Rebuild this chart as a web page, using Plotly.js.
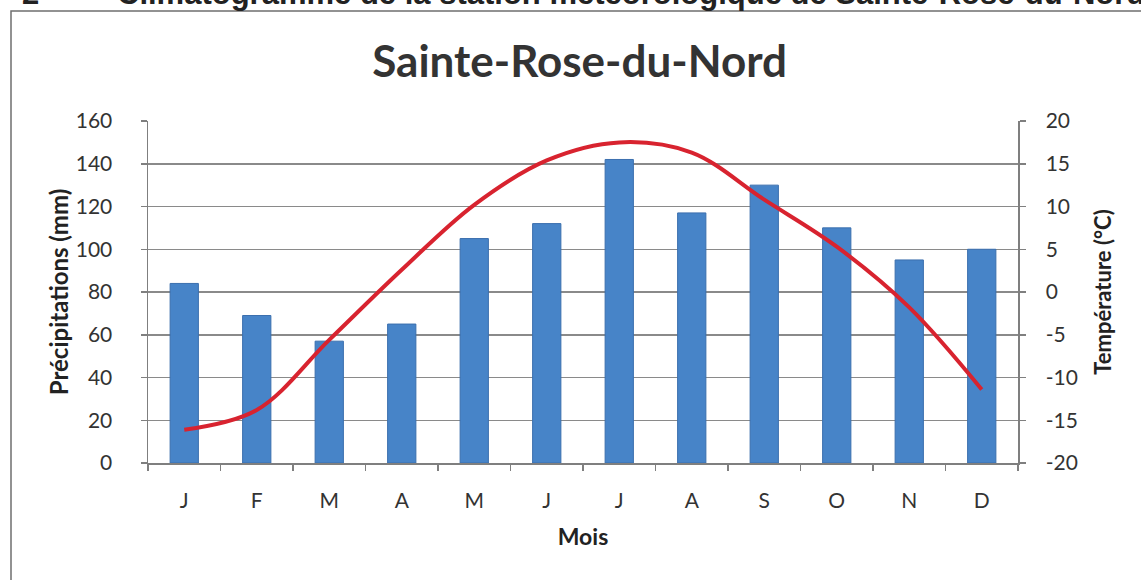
<!DOCTYPE html>
<html><head><meta charset="utf-8">
<script src="https://cdn.plot.ly/plotly-3.0.1.min.js"></script>
<style>html,body{margin:0;padding:0;background:#fff;}#c{width:1141px;height:580px;}</style>
</head><body><div id="c"></div>
<script>
const months = ['J','F','M','A','M','J','J','A','S','O','N','D'];
const precipitation = [84, 69, 57, 65, 105, 112, 142, 117, 130, 110, 95, 100];
const temperature = [-16.1, -13.8, -5.6, 2.6, 10.2, 15.4, 17.5, 16.3, 10.8, 5.3, -1.8, -11.4];
const leftTicks = [0, 20, 40, 60, 80, 100, 120, 140, 160];
const rightTicks = [-20, -15, -10, -5, 0, 5, 10, 15, 20];
const rightTickText = ['-20', '-15', '-10', '-5', '0', '5', '10', '15', '20'];

const idx = months.map((m, i) => i);
const bounds = months.map((m, i) => i - 0.5).concat([months.length - 0.5]);
const FONT = 'Lato, "Open Sans", sans-serif';

const traces = [
  {type:'bar', x: idx, y: precipitation, name:'Précipitations',
   marker:{color:'#4784c8', line:{color:'#3b6fae', width:1}}, width:0.39,
   xaxis:'x', yaxis:'y', hoverinfo:'y'},
  {type:'scatter', mode:'lines', x: idx, y: temperature, name:'Température',
   line:{color:'#d8232f', width:4, shape:'spline', smoothing:1},
   xaxis:'x', yaxis:'y2'},
  {type:'scatter', mode:'markers', x: bounds, y: bounds.map(()=>0), xaxis:'x2', yaxis:'y',
   marker:{opacity:0}, hoverinfo:'skip', showlegend:false}
];

const W = 870, H = 342, L = 148, T = 121;
const px = v => (v - L) / W;
const py = v => (T + H - v) / H;

const layout = {
  width:1141, height:580,
  margin:{l:L, r:1141-L-W, t:T, b:580-T-H},
  paper_bgcolor:'#fff', plot_bgcolor:'#fff',
  showlegend:false,
  font:{family:FONT, color:'#333'},
  title:{text:'<b>Sainte-Rose-du-Nord</b>', font:{family:FONT, size:44, color:'#333'}, x:0.508, xanchor:'center', y:0.893, yanchor:'middle'},
  xaxis:{range:[-0.5, 11.5], tickvals: idx, ticktext: months, ticks:'', showgrid:false, zeroline:false,
         showline:true, linecolor:'#7f7f7f', linewidth:1.5,
         tickfont:{size:21, color:'#333'}, ticklabelstandoff:18,
         title:{text:'<b>Mois</b>', font:{size:23, color:'#222'}, standoff:18}},
  xaxis2:{overlaying:'x', matches:'x', range:[-0.5, 11.5], tickvals: bounds, showticklabels:false, ticks:'outside', ticklen:7, tickcolor:'#7f7f7f', tickwidth:1.5, showgrid:false, zeroline:false, anchor:'y', side:'bottom'},
  yaxis:{range:[0,160], tickvals:leftTicks, ticks:'outside', ticklen:6, tickcolor:'#7f7f7f', tickwidth:1.5,
         showline:true, linecolor:'#7f7f7f', linewidth:1.5, gridcolor:'#8a8a8a', gridwidth:1.5, zeroline:false,
         tickfont:{size:21, color:'#333'}, ticklabelstandoff:24,
         title:{text:'<b>Précipitations (mm)</b>', font:{size:24, color:'#222'}, standoff:0}},
  yaxis2:{range:[-20,20], tickvals:rightTicks, ticktext:rightTickText, overlaying:'y', side:'right', ticks:'outside', ticklen:6, tickcolor:'#7f7f7f', tickwidth:1.5,
         showline:true, linecolor:'#7f7f7f', linewidth:1.5, showgrid:false, zeroline:false,
         tickfont:{size:21, color:'#333'}, ticklabelstandoff:16,
         title:{text:'<b>Température (°C)</b>', font:{size:22, color:'#222'}, standoff:18}},
  shapes:[
    {type:'rect', xref:'paper', yref:'paper', x0:px(11), x1:px(1160), y0:py(11), y1:py(600),
     line:{color:'#6f6f6f', width:1.5}, fillcolor:'rgba(0,0,0,0)', layer:'below'}
  ],
  annotations:[
    {xref:'paper', yref:'paper', x:px(20), y:py(-7), xanchor:'left', yanchor:'middle', showarrow:false,
     text:'<b>2</b>', font:{family:'"Liberation Sans", Arial, sans-serif', size:31, color:'#222'}},
    {xref:'paper', yref:'paper', x:px(115), y:py(-7), xanchor:'left', yanchor:'middle', showarrow:false,
     text:'<b>Climatogramme de la station météorologique de Sainte-Rose-du-Nord</b>', font:{family:'"Liberation Sans", Arial, sans-serif', size:31, color:'#222'}}
  ]
};

Plotly.newPlot('c', traces, layout, {displayModeBar:false, staticPlot:true});
</script></body></html>
